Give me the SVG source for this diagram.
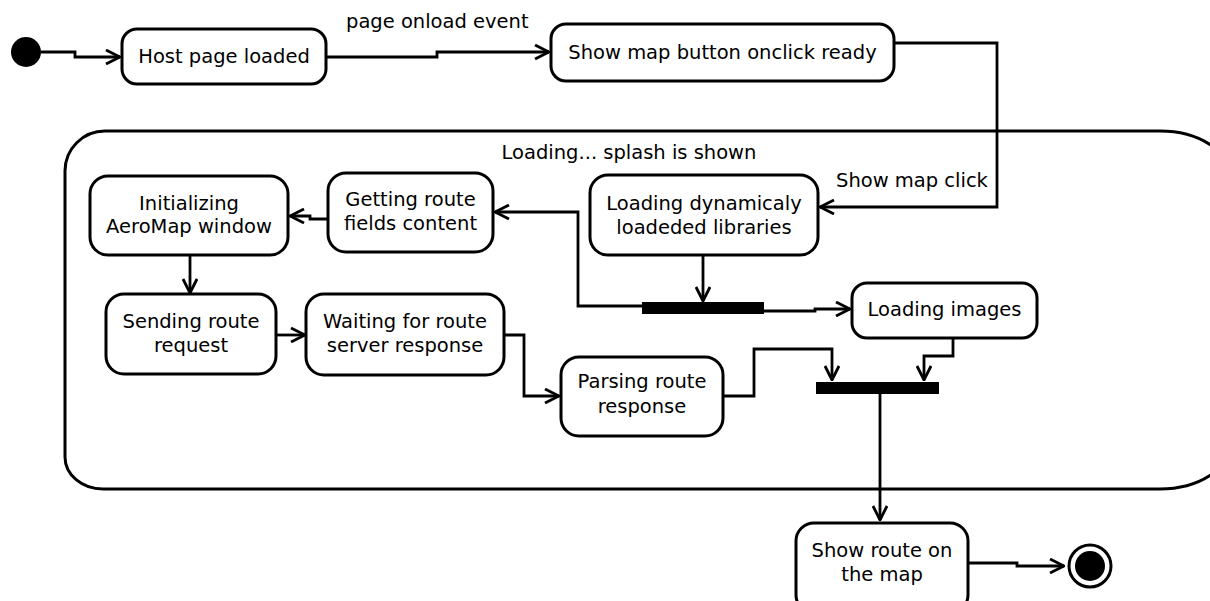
<svg xmlns="http://www.w3.org/2000/svg" width="1210" height="601" viewBox="0 0 1210 601">
<style>
.box{fill:#fff;stroke:#000;stroke-width:3}
.t{font-family:"DejaVu Sans","Liberation Sans",sans-serif;font-size:19.5px;fill:#000;text-anchor:middle}
.l{font-family:"DejaVu Sans","Liberation Sans",sans-serif;font-size:19.5px;fill:#000}
.c{fill:none;stroke:#000;stroke-width:2.8;marker-end:url(#arr)}
.bar{fill:#000}
</style>
<defs>
<marker id="arr" viewBox="0 0 16 16" refX="15" refY="8" markerWidth="16" markerHeight="16" markerUnits="userSpaceOnUse" orient="auto">
<path d="M1,1 L15,8 L1,15" fill="none" stroke="#000" stroke-width="2.8"/>
</marker>
</defs>
<rect width="1210" height="601" fill="#fff"/>
<g id="container">
<path d="M105,131 H1160 A70,45 0 0 1 1230,176 V444 A70,45 0 0 1 1160,489 H103 A38,32 0 0 1 65,457 V171 A40,40 0 0 1 105,131 Z" fill="none" stroke="#000" stroke-width="3"/>
<text class="t" x="629" y="159">Loading... splash is shown</text>
</g>
<g id="connectors">
<path class="c" d="M41,52 H75 V57 H120"/>
<path class="c" d="M326,57 H437 V52 H549"/>
<text class="l" x="346" y="28">page onload event</text>
<path class="c" d="M894,43 H997 V207 H820"/>
<text class="l" x="836" y="187">Show map click</text>
<path class="c" d="M703,255 V301"/>
<path class="c" d="M642,306 H578 V212 H495"/>
<path class="c" d="M764,311 H815 V309 H850"/>
<path class="c" d="M328,219 H310 V216 H290"/>
<path class="c" d="M190,255 V293"/>
<path class="c" d="M276,335 H305"/>
<path class="c" d="M504,335 H524 V396 H559"/>
<path class="c" d="M723,396 H754 V349 H832 V380"/>
<path class="c" d="M953,338 V356 H924 V380"/>
<path class="c" d="M880,394 V520"/>
<path class="c" d="M968,563 H1017 V566 H1064"/>
</g>
<g id="start"><circle cx="26" cy="52" r="15" fill="#000"/></g>
<g id="host"><rect class="box" x="122" y="29" width="204" height="55" rx="15"/><text class="t" x="224" y="63">Host page loaded</text></g>
<g id="showmap"><rect class="box" x="551" y="24" width="343" height="57" rx="15"/><text class="t" x="722.5" y="59">Show map button onclick ready</text></g>
<g id="loadlibs"><rect class="box" x="590" y="175" width="228" height="80" rx="18"/><text class="t" x="704" y="210">Loading dynamicaly</text><text class="t" x="704" y="234">loadeded libraries</text></g>
<g id="getting"><rect class="box" x="328" y="173" width="165" height="79" rx="18"/><text class="t" x="410.5" y="206">Getting route</text><text class="t" x="410.5" y="230">fields content</text></g>
<g id="init"><rect class="box" x="90" y="176" width="198" height="79" rx="18"/><text class="t" x="189" y="210">Initializing</text><text class="t" x="189" y="233">AeroMap window</text></g>
<g id="sending"><rect class="box" x="106" y="294" width="170" height="80" rx="18"/><text class="t" x="191" y="328">Sending route</text><text class="t" x="191" y="352">request</text></g>
<g id="waiting"><rect class="box" x="306" y="294" width="198" height="81" rx="18"/><text class="t" x="405" y="328">Waiting for route</text><text class="t" x="405" y="352">server response</text></g>
<g id="parsing"><rect class="box" x="561" y="357" width="162" height="79" rx="18"/><text class="t" x="642" y="388">Parsing route</text><text class="t" x="642" y="413">response</text></g>
<g id="images"><rect class="box" x="852" y="283" width="185" height="55" rx="15"/><text class="t" x="944.5" y="316">Loading images</text></g>
<g id="fork"><rect class="bar" x="642" y="302" width="122" height="12"/></g>
<g id="join"><rect class="bar" x="816" y="382" width="123" height="12"/></g>
<g id="showroute"><rect class="box" x="796" y="523" width="172" height="90" rx="18"/><text class="t" x="882" y="557">Show route on</text><text class="t" x="882" y="581">the map</text></g>
<g id="end"><circle cx="1090" cy="566" r="21" fill="#fff" stroke="#000" stroke-width="3"/><circle cx="1090" cy="566" r="15" fill="#000"/></g>
</svg>
